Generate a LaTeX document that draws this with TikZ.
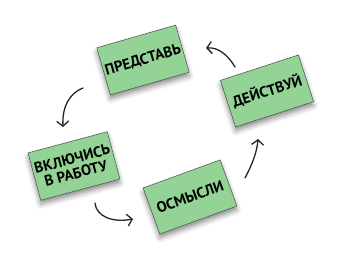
\documentclass[tikz,border=0pt]{standalone}
\usepackage{fontspec}
\setmainfont{PT Sans}
\usetikzlibrary{arrows.meta, shadows.blur}
\definecolor{cardgreen}{HTML}{93D395}

\begin{document}
\begin{tikzpicture}[
    x=1pt, y=-1pt,
    font=\bfseries\fontsize{15}{15}\selectfont,
    card/.style={rectangle, draw=black!70, fill=cardgreen, line width=0.5pt, minimum width=82pt, minimum height=49pt, align=center, inner sep=1pt, blur shadow={shadow xshift=0pt, shadow yshift=-4pt, shadow blur radius=5pt, shadow opacity=45}},
    cyclearr/.style={-{Straight Barb[length=5pt, width=12pt, line width=1.3pt]}, line width=1.3pt, draw=black!85, line cap=round}
]
\useasboundingbox (0,0) rectangle (340,261);

% 1. Cards
\node[card, rotate=16] (predstav) at (143,60) {ПРЕДСТАВЬ};
\node[card, rotate=18] (deistvui) at (267,91) {ДЕЙСТВУЙ};
\node[card, rotate=15] (vkluchis) at (74,166) {ВКЛЮЧИСЬ\\В РАБОТУ};
\node[card, rotate=20] (osmysli) at (190,197) {ОСМЫСЛИ};

% 2. Arrow ends
\coordinate (a1s) at (83,88);  \coordinate (a1e) at (63,127);
\coordinate (a2s) at (95,203); \coordinate (a2e) at (133,219);
\coordinate (a3s) at (245,178); \coordinate (a3e) at (258,139);
\coordinate (a4s) at (235,67); \coordinate (a4e) at (206,48);

% 3. Hand-drawn arrows
\draw[cyclearr] (a1s) .. controls (70,93) and (62,106) .. (a1e);
\draw[cyclearr] (a2s) .. controls (96,216) and (112,223) .. (a2e);
\draw[cyclearr] (a3s) .. controls (252,165) and (257,152) .. (a3e);
\draw[cyclearr] (a4s) .. controls (228,55) and (218,47) .. (a4e);

\end{tikzpicture}
\end{document}
